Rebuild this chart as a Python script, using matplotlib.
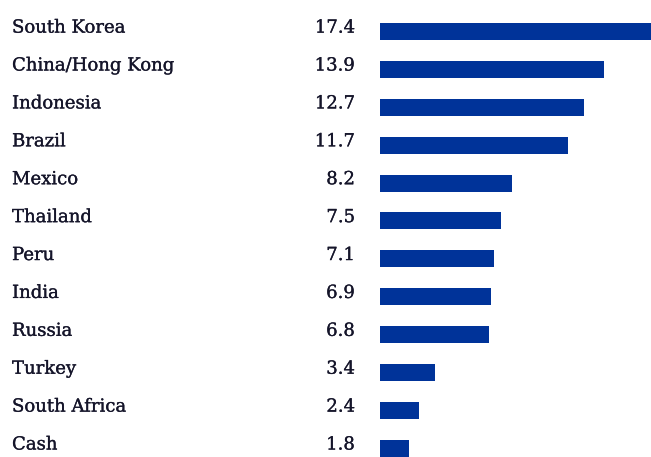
import matplotlib
matplotlib.use("Agg")
from matplotlib import pyplot as plt
import matplotlib.transforms as mtransforms
import matplotlib.patheffects as pe

countries = ['South Korea', 'China/Hong Kong', 'Indonesia', 'Brazil', 'Mexico',
             'Thailand', 'Peru', 'India', 'Russia', 'Turkey', 'South Africa', 'Cash']
weights = [17.4, 13.9, 12.7, 11.7, 8.2, 7.5, 7.1, 6.9, 6.8, 3.4, 2.4, 1.8]
value_labels = ['17.4', '13.9', '12.7', '11.7', '8.2', '7.5', '7.1', '6.9', '6.8',
                '3.4', '2.4', '1.8']

bar_color = '#003399'
text_color = '#15152a'

W, H = 651, 457
fig = plt.figure(figsize=(W / 100, H / 100), dpi=100)
# bars start at x=380 px, ~16.1 px per unit
ax = fig.add_axes([380 / W, 0, 1 - 380 / W, 1])
ax.set_xlim(0, (W - 380) / 16.1)
row = 37.9
ax.set_ylim((H - 31.5) / row, -31.5 / row)
ax.axis('off')

ys = list(range(len(countries)))
ax.barh(ys, weights, height=17 / row, color=bar_color, left=0)

# slight stroke so the serif text looks a bit heavier, like the original
heavy = [pe.withStroke(linewidth=0.2, foreground=text_color)]
trans = mtransforms.blended_transform_factory(fig.transFigure, ax.transData)
for y, name, val in zip(ys, countries, value_labels):
    ax.text(12 / W, y + 0.03, name, transform=trans, ha='left', va='baseline',
            fontsize=13, family='DejaVu Serif', color=text_color, path_effects=heavy)
    ax.text(355 / W, y + 0.03, val, transform=trans, ha='right', va='baseline',
            fontsize=13, family='DejaVu Serif', color=text_color, path_effects=heavy)

fig.savefig('out.png', dpi=100)
